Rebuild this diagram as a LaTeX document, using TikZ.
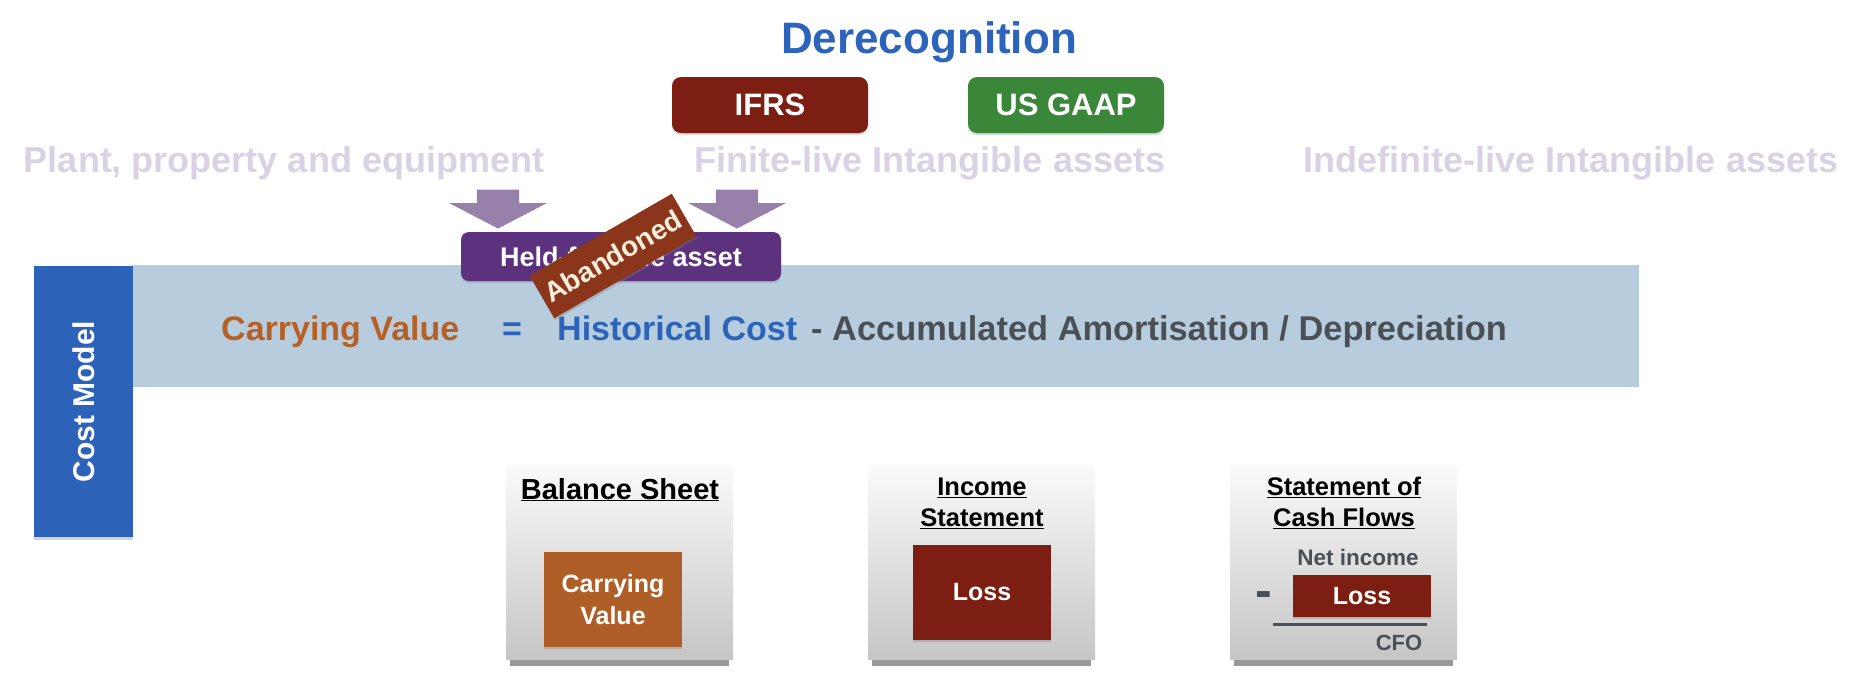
\documentclass[tikz,border=0pt]{standalone}
\usepackage{fontspec}
\setmainfont{Liberation Sans}
\usepackage{graphicx}
\usepackage{tikz}
\usetikzlibrary{shapes.arrows,shadows,positioning}
\definecolor{titleblue}  {RGB}{44,99,187}
\definecolor{ifrsred}    {RGB}{124,30,17}
\definecolor{gaapgreen}  {RGB}{59,135,58}
\definecolor{fadedlav}   {RGB}{217,209,228}
\definecolor{arrowpurple}{RGB}{151,129,171}
\definecolor{heldpurple} {RGB}{92,49,125}
\definecolor{abandonred} {RGB}{139,54,27}
\definecolor{creamtext}  {RGB}{246,238,218}
\definecolor{bandblue}   {RGB}{183,205,222}
\definecolor{costblue}   {RGB}{44,99,185}
\definecolor{cvorange}   {RGB}{183,96,38}
\definecolor{boxorange}  {RGB}{176,94,39}
\definecolor{eqgray}     {RGB}{75,79,86}
\definecolor{cardtop}    {RGB}{250,250,250}
\definecolor{cardbot}    {RGB}{198,198,198}
\newcommand{\pxfont}[2]{\fontsize{#1}{#2}\selectfont\bfseries}
\tikzset{
  tagbox/.style  ={rounded corners=9pt, minimum width=196pt, minimum height=56pt,
                   text=white, font=\pxfont{31}{36}, inner sep=0pt,
                   drop shadow={shadow xshift=0pt, shadow yshift=-2pt, opacity=.3}},
  faded/.style   ={text=fadedlav, font=\pxfont{36}{40}, inner sep=0pt},
  blockarr/.style={single arrow, fill=arrowpurple, draw=none, rotate=-90,
                   minimum height=39pt, text height=21pt, text depth=21pt,
                   inner sep=0pt, single arrow head extend=27.5pt,
                   single arrow tip angle=125},
  heldbox/.style ={rounded corners=8pt, fill=heldpurple, text=white,
                   minimum width=320pt, minimum height=49pt, inner sep=0pt,
                   font=\pxfont{27}{30},
                   drop shadow={shadow xshift=0pt, shadow yshift=-2pt, opacity=.3}},
  stampbox/.style={fill=abandonred, text=creamtext, minimum width=164pt,
                   minimum height=49pt, inner sep=0pt, font=\pxfont{28}{30},
                   drop shadow={shadow xshift=1pt, shadow yshift=-2pt, opacity=.35}},
  eq/.style      ={font=\pxfont{34}{38}, inner sep=0pt},
  cardshade/.style={fill=black, opacity=.4, minimum width=219pt,
                   minimum height=193pt, inner sep=0pt},
  card/.style    ={minimum width=227pt, minimum height=193pt, inner sep=0pt,
                   top color=cardtop, bottom color=cardbot},
  cardtitle/.style={font=\pxfont{25.5}{31}, align=center, inner sep=0pt},
  valbox/.style  ={minimum width=138pt, minimum height=95pt, inner sep=0pt,
                   text=white, font=\pxfont{25}{32}, align=center,
                   drop shadow={shadow xshift=0pt, shadow yshift=-2pt, opacity=.35}},
  smallgray/.style={text=eqgray, font=\pxfont{22.5}{26}, inner sep=0pt},
}

\begin{document}
\begin{tikzpicture}[x=1pt,y=-1pt]
  \useasboundingbox (0,0) rectangle (1852,686);

  \node[font=\pxfont{44}{48}, text=titleblue, anchor=base, inner sep=0pt]
        (derec) at (929,53) {Derecognition};
  \node[tagbox, fill=ifrsred]  (ifrs) at (770,105)  {IFRS};
  \node[tagbox, fill=gaapgreen](gaap) at (1066,105) {US GAAP};

  \node[faded, anchor=base] (ppe)    at (284,172)  {Plant, property and equipment};
  \node[faded, anchor=base] (finite) at (930,172)  {Finite-live Intangible assets};
  \node[faded, anchor=base] (indef)  at (1571,172) {Indefinite-live Intangible assets};

  % cost model band
  \node[fill=bandblue, minimum width=1506pt, minimum height=122pt, inner sep=0pt]
        (band) at (886,326) {};
  \node[fill=costblue, text=white, minimum width=99pt, minimum height=271pt,
        inner sep=0pt, font=\pxfont{30}{34},
        drop shadow={shadow xshift=0pt, shadow yshift=-3pt, opacity=.35}]
        (cost) at (83.5,401.5) {\rotatebox{90}{Cost Model}};

  \node[eq, text=cvorange, anchor=base west] (cv)     at (221,340) {Carrying Value};
  \node[eq, text=titleblue, anchor=base]     (equals) at (512,340) {=};
  \node[eq, text=titleblue, anchor=base west](hc)     at (557,340) {Historical Cost};
  \node[eq, text=eqgray, anchor=base west, font=\pxfont{34.4}{38}] (acc) at (811,340)
        {- Accumulated Amortisation / Depreciation};

  \node[blockarr] (arrppe) at (498,203.5) {};
  \node[blockarr] (arrfin) at (737,203.5) {};
  \node[heldbox] (held) at (621,256.5) {Held-for-sale asset};
  \node[stampbox, rotate=30] (aband) at (613,256) {Abandoned};

  % statements
  \node[cardshade] (bsshade) at (619.5,569) {};
  \node[cardshade] (isshade) at (981.5,569) {};
  \node[cardshade] (cfshade) at (1343.5,569) {};
  \node[card] (bs) at (619.5,562.5) {};
  \node[card] (is) at (981.5,562.5) {};
  \node[card] (cf) at (1343.5,562.5) {};

  \node[cardtitle, font=\pxfont{29}{34}, anchor=base] (bstitle) at (620,499)
        {\underline{Balance Sheet}};
  \node[cardtitle] (istitle) at (982,503) {\underline{Income}\\\underline{Statement}};
  \node[cardtitle] (cftitle) at (1344,503) {\underline{Statement of}\\\underline{Cash Flows}};

  \node[valbox, fill=boxorange] (bscv)   at (613,599.5) {Carrying\\Value};
  \node[valbox, fill=ifrsred]   (isloss) at (982,592.5) {Loss};

  \node[smallgray, anchor=base] (netinc) at (1358,565) {Net income};
  \node[valbox, fill=ifrsred, minimum height=42pt] (cfloss) at (1362,596) {Loss};
  \node[text=eqgray, font=\pxfont{50}{50}, inner sep=0pt] (minus) at (1264,600) {-};
  \coordinate (rulel) at (1273,624);
  \coordinate (ruler) at (1427,624);
  \draw[eqgray, line width=3pt] (rulel) -- (ruler);
  \node[smallgray, font=\pxfont{22}{26}, anchor=base] (cfo) at (1399,650) {CFO};
\end{tikzpicture}
\end{document}
